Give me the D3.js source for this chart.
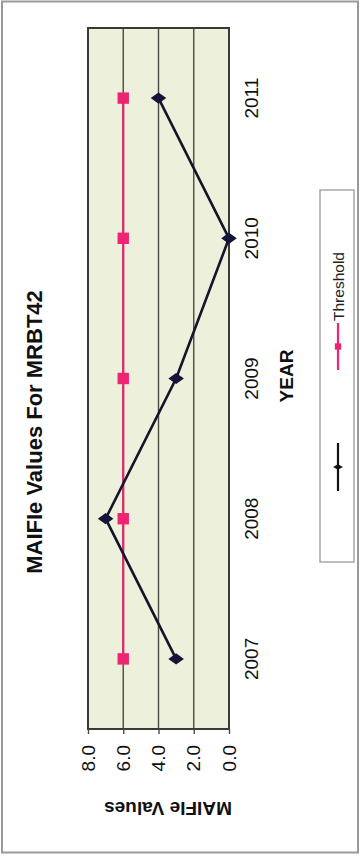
<!DOCTYPE html>
<html>
<head>
<meta charset="utf-8">
<script src="https://cdn.jsdelivr.net/npm/d3@7"></script>
<style>
  html, body { margin: 0; padding: 0; background: #fff; }
  svg { display: block; font-family: "Liberation Sans", Arial, sans-serif; }
</style>
</head>
<body>
<svg id="chart" width="360" height="858"></svg>
<script>
// MAIFIe values per year for circuit MRBT42, with the threshold series
const years = ["2007", "2008", "2009", "2010", "2011"];
const maifie = [3, 7, 3, 0, 4];
const threshold = [6, 6, 6, 6, 6];
const valueTicks = [0, 2, 4, 6, 8];
const seriesNames = ["", "Threshold"];

const W = 858, H = 360;           // chart drawn landscape, then turned a quarter
const plot = { left: 129, right: 830, top: 88, bottom: 229 };

const svg = d3.select("#chart");

// page frame
svg.append("rect")
  .attr("x", 2).attr("y", 1.5).attr("width", 356).attr("height", 851)
  .attr("fill", "none").attr("stroke", "#9a9a9a").attr("stroke-width", 2);

// landscape group rotated so the year axis runs up the page
const g = svg.append("g").attr("transform", `translate(0,${W}) rotate(-90)`);

const x = d3.scaleBand().domain(years).range([plot.left, plot.right]).padding(0);
const xc = d => x(d) + x.bandwidth() / 2;
const y = d3.scaleLinear().domain([0, 8]).range([plot.bottom, plot.top]);

// plot background
g.append("rect")
  .attr("x", plot.left).attr("y", plot.top)
  .attr("width", plot.right - plot.left).attr("height", plot.bottom - plot.top)
  .attr("fill", "#edf0da");

// horizontal gridlines
g.append("g").selectAll("line")
  .data(valueTicks.filter(v => v > 0 && v < 8))
  .join("line")
  .attr("x1", plot.left).attr("x2", plot.right)
  .attr("y1", d => y(d)).attr("y2", d => y(d))
  .attr("stroke", "#4a4a40").attr("stroke-width", 1.4);

// plot border
g.append("rect")
  .attr("x", plot.left).attr("y", plot.top)
  .attr("width", plot.right - plot.left).attr("height", plot.bottom - plot.top)
  .attr("fill", "none").attr("stroke", "#3a3a34").attr("stroke-width", 2);

// value axis
const yAxis = g.append("g")
  .attr("transform", `translate(${plot.left},0)`)
  .call(d3.axisLeft(y).tickValues(valueTicks).tickFormat(d3.format(".1f")).tickSize(5).tickPadding(11));
yAxis.select(".domain").remove();
yAxis.selectAll(".tick line").attr("stroke", "#4a4a40").attr("stroke-width", 1.4);
yAxis.selectAll(".tick text")
  .attr("font-size", 19).attr("fill", "#111")
  .attr("font-family", "'Liberation Sans', Arial, sans-serif");

// year axis
const xAxis = g.append("g")
  .attr("transform", `translate(0,${plot.bottom})`)
  .call(d3.axisBottom(x).tickSize(0).tickPadding(16));
xAxis.select(".domain").remove();
xAxis.selectAll(".tick text")
  .attr("font-size", 19).attr("fill", "#111")
  .attr("font-family", "'Liberation Sans', Arial, sans-serif");

// title and axis titles
g.append("text")
  .attr("x", 426).attr("y", 42)
  .attr("text-anchor", "middle")
  .attr("font-size", 22).attr("font-weight", "bold").attr("fill", "#111")
  .text("MAIFIe Values For MRBT42");

g.append("text")
  .attr("x", 482).attr("y", 293)
  .attr("text-anchor", "middle")
  .attr("font-size", 19).attr("font-weight", "bold").attr("fill", "#111")
  .text("YEAR");

g.append("text")
  .attr("transform", `translate(56,${168}) rotate(-90)`)
  .attr("text-anchor", "middle")
  .attr("font-size", 19).attr("font-weight", "bold").attr("fill", "#111")
  .text("MAIFIe Values");

// series
const line = d3.line().x((d, i) => xc(years[i])).y(d => y(d));
const diamond = d3.symbol().type(d3.symbolDiamond).size(70);
const square = d3.symbol().type(d3.symbolSquare).size(130);

g.append("path")
  .datum(threshold)
  .attr("d", line)
  .attr("fill", "none").attr("stroke", "#e8206e").attr("stroke-width", 2.2);
g.append("g").selectAll("path")
  .data(threshold)
  .join("path")
  .attr("transform", (d, i) => `translate(${xc(years[i])},${y(d)})`)
  .attr("d", square).attr("fill", "#ee2472");

g.append("path")
  .datum(maifie)
  .attr("d", line)
  .attr("fill", "none").attr("stroke", "#14142a").attr("stroke-width", 2.6);
g.append("g").selectAll("path")
  .data(maifie)
  .join("path")
  .attr("transform", (d, i) => `translate(${xc(years[i])},${y(d)}) scale(1.25,1)`)
  .attr("d", diamond).attr("fill", "#14143a");

// legend
const leg = g.append("g");
leg.append("rect")
  .attr("x", 296).attr("y", 320).attr("width", 372).attr("height", 34)
  .attr("fill", "#fff").attr("stroke", "#a8a8a8").attr("stroke-width", 1.5);

const legendItems = [
  { name: seriesNames[0], x0: 367, x1: 415, color: "#111", marker: d3.symbol().type(d3.symbolDiamond).size(28) },
  { name: seriesNames[1], x0: 488, x1: 535, color: "#ee2472", marker: d3.symbol().type(d3.symbolSquare).size(40) }
];
legendItems.forEach(it => {
  leg.append("line")
    .attr("x1", it.x0).attr("x2", it.x1).attr("y1", 338).attr("y2", 338)
    .attr("stroke", it.color).attr("stroke-width", 2.2);
  leg.append("path")
    .attr("transform", `translate(${(it.x0 + it.x1) / 2},338)`)
    .attr("d", it.marker).attr("fill", it.color);
  if (it.name) {
    leg.append("text")
      .attr("x", it.x1 + 2).attr("y", 344)
      .attr("font-size", 15).attr("fill", "#222")
      .attr("textLength", 69).attr("lengthAdjust", "spacingAndGlyphs")
      .text(it.name);
  }
});
</script>
</body>
</html>
